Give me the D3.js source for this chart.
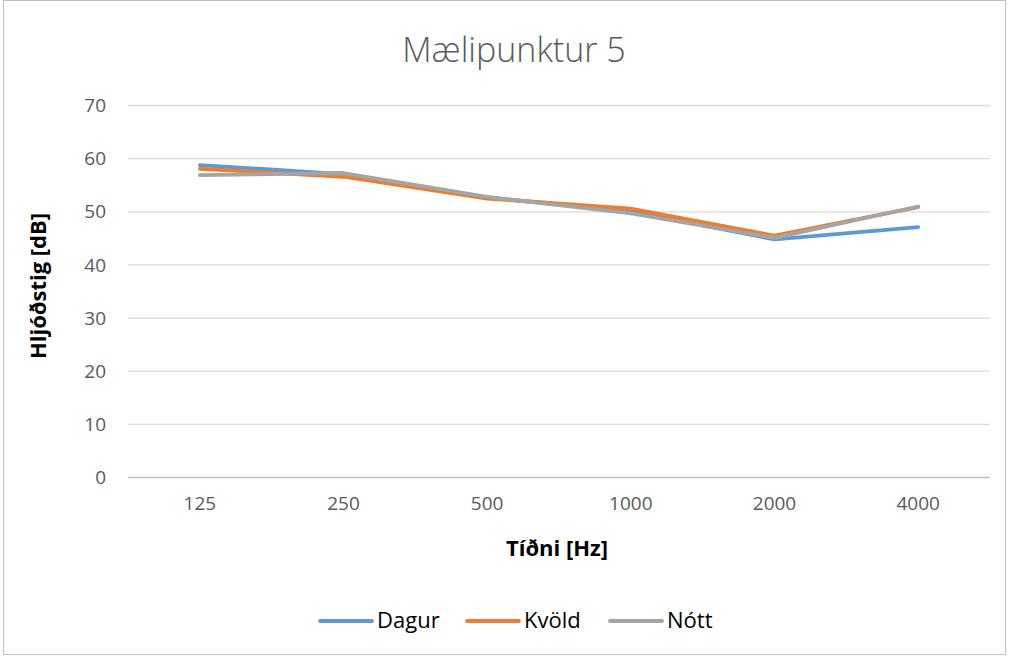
<!DOCTYPE html>
<html><head><meta charset="utf-8">
<script src="https://cdn.jsdelivr.net/npm/d3@7"></script>
<style>body{margin:0;background:#fff}svg{display:block}</style>
</head><body>
<script>
const categories = ["125","250","500","1000","2000","4000"];
const dagur = [58.7, 57.0, 52.6, 50.0, 44.7, 47.0];
const kvold = [58.0, 56.5, 52.4, 50.5, 45.4, 50.8];
const nott  = [56.8, 57.2, 52.7, 49.6, 45.0, 50.9];
const seriesNames = ["Dagur","Kvöld","Nótt"];
const colors = ["#5B9BD5","#ED7D31","#A5A5A5"];
const yTicks = [0,10,20,30,40,50,60,70];

const W=1009,H=657;
const F="Open Sans, sans-serif";
const svg=d3.select("body").append("svg").attr("width",W).attr("height",H);
svg.append("rect").attr("x",3.5).attr("y",0.5).attr("width",1002).attr("height",654).attr("fill","#fff").attr("stroke","#bfbfbf");

const x=d3.scaleBand().domain(categories).range([128,990]);
const y=d3.scaleLinear().domain([0,70]).range([477,105]);

svg.append("text").attr("x",514).attr("y",62).attr("text-anchor","middle")
 .attr("font-family",F).attr("font-weight",300).attr("font-size",34).attr("fill","#595959").text("Mælipunktur 5");

const gy=svg.append("g");
yTicks.forEach(t=>{
  gy.append("line").attr("x1",128).attr("x2",990).attr("y1",y(t)+0.5).attr("y2",y(t)+0.5)
    .attr("stroke",t===0?"#bfbfbf":"#d9d9d9").attr("stroke-width",1.3);
});
const yAxis=d3.axisLeft(y).tickValues(yTicks).tickSize(0).tickPadding(0);
const ga=svg.append("g").attr("transform","translate(106,0)").call(yAxis);
ga.select(".domain").remove();
ga.selectAll("text").attr("font-family",F).attr("font-size",19).attr("fill","#595959").attr("dy","0.35em");

const xAxis=d3.axisBottom(x).tickSize(0).tickPadding(0);
const gx=svg.append("g").attr("transform","translate(0,496)").call(xAxis);
gx.select(".domain").remove();
gx.selectAll("text").attr("font-family",F).attr("font-size",19).attr("fill","#595959").attr("dy","0.71em");

svg.append("text").attr("x",557).attr("y",556).attr("text-anchor","middle")
 .attr("font-family",F).attr("font-weight",700).attr("font-size",22).attr("fill","#000").text("Tíðni [Hz]");
svg.append("text").attr("transform","translate(46,286) rotate(-90)").attr("text-anchor","middle")
 .attr("font-family",F).attr("font-weight",700).attr("font-size",22).attr("fill","#000").text("Hljóðstig [dB]");

const data=[dagur,kvold,nott];
const line=d3.line().x((d,i)=>x(categories[i])+x.bandwidth()/2).y(d=>y(d));
data.forEach((s,k)=>{
  svg.append("path").attr("d",line(s)).attr("fill","none").attr("stroke",colors[k])
   .attr("stroke-width",3.8).attr("stroke-linecap","round").attr("stroke-linejoin","round");
});

const legX=[320,467,610];
seriesNames.forEach((n,k)=>{
  svg.append("line").attr("x1",legX[k]).attr("x2",legX[k]+52).attr("y1",621).attr("y2",621)
   .attr("stroke",colors[k]).attr("stroke-width",3.8).attr("stroke-linecap","round");
  svg.append("text").attr("x",legX[k]+57).attr("y",628).attr("font-family",F)
   .attr("font-size",22).attr("fill","#000").text(n);
});
</script>
</body></html>
